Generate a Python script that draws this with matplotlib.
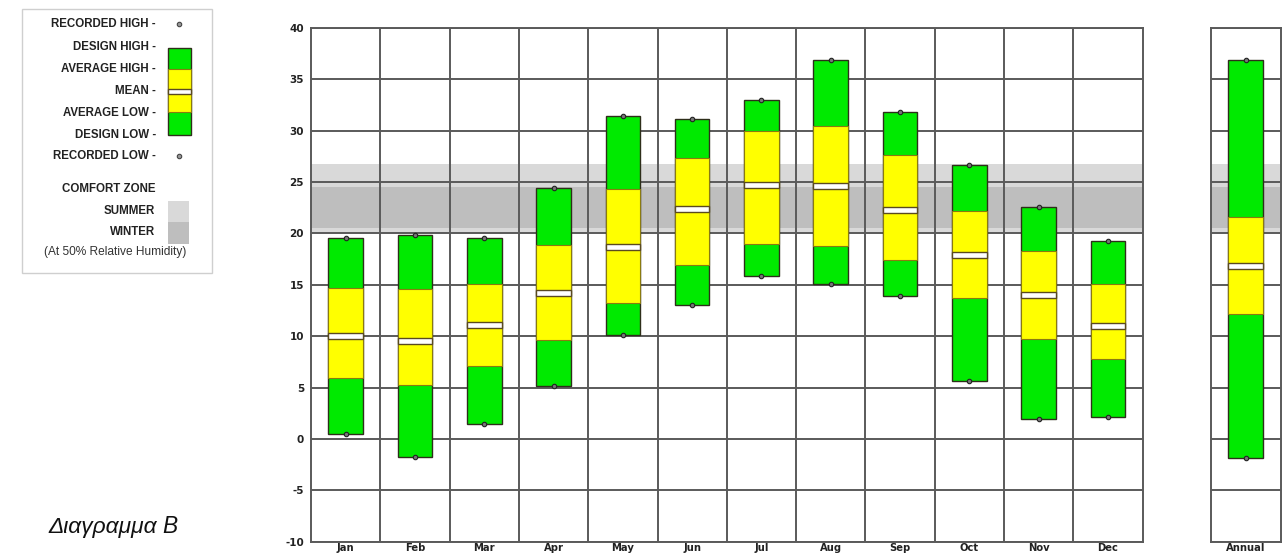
import numpy as np
import matplotlib
matplotlib.use("Agg")
import matplotlib.pyplot as plt
from matplotlib.patches import Rectangle

# Monthly temperature ranges (deg C)
months = ["Jan", "Feb", "Mar", "Apr", "May", "Jun",
          "Jul", "Aug", "Sep", "Oct", "Nov", "Dec"]
recorded_high = [19.6, 19.85, 19.6, 24.45, 31.45, 31.1, 33.0, 36.9, 31.85, 26.65, 22.6, 19.25]
design_high = [19.6, 19.85, 19.6, 24.45, 31.45, 31.1, 33.0, 36.9, 31.85, 26.65, 22.6, 19.25]
average_high = [14.65, 14.55, 15.1, 18.85, 24.3, 27.35, 29.95, 30.5, 27.6, 22.2, 18.25, 15.1]
mean_temp = [10.05, 9.5, 11.1, 14.2, 18.7, 22.4, 24.7, 24.6, 22.3, 17.9, 14.0, 11.0]
average_low = [5.95, 5.25, 7.1, 9.6, 13.25, 16.9, 19.0, 18.8, 17.4, 13.75, 9.7, 7.75]
design_low = [0.45, -1.8, 1.45, 5.15, 10.1, 13.0, 15.9, 15.05, 13.9, 5.65, 1.9, 2.15]
recorded_low = [0.45, -1.8, 1.45, 5.15, 10.1, 13.0, 15.9, 15.05, 13.9, 5.65, 1.9, 2.15]

annual_label = ["Annual"]
annual_recorded_high = [36.9]
annual_design_high = [36.9]
annual_average_high = [21.6]
annual_mean = [16.8]
annual_average_low = [12.15]
annual_design_low = [-1.85]
annual_recorded_low = [-1.85]

# Comfort zones at 50% relative humidity
summer_zone = (20.0, 26.8)
winter_zone = (20.5, 24.5)

GREEN = "#00ea00"
YELLOW = "#ffff00"
EDGE = "#2e2e1a"
GRID = "#5a5a5a"
SUMMER = "#d9d9d9"
WINTER = "#bebebe"
TXT = "#222222"

W, H = 1284, 555
fig = plt.figure(figsize=(W / 100, H / 100), dpi=100)


def draw_bars(ax, x, rh, dh, ah, mn, al, dl, rl, width=0.5):
    for i in range(len(x)):
        ax.bar(x[i], dh[i] - dl[i], bottom=dl[i], width=width,
               color=GREEN, edgecolor=EDGE, linewidth=1.0, zorder=3)
        ax.bar(x[i], ah[i] - al[i], bottom=al[i], width=width,
               color=YELLOW, edgecolor="#8a7a10", linewidth=0.8, zorder=4)
        ax.bar(x[i], 0.6, bottom=mn[i] - 0.3, width=width,
               color="white", edgecolor="#5a4a20", linewidth=1.0, zorder=5)
    ax.plot(x, rh, "o", ms=3.2, mfc="#777777", mec="#222222", mew=0.8, zorder=6)
    ax.plot(x, rl, "o", ms=3.2, mfc="#777777", mec="#222222", mew=0.8, zorder=6)


def style_axes(ax):
    ax.set_ylim(-10, 40)
    ax.set_yticks(np.arange(-10, 41, 5))
    ax.axhspan(*summer_zone, color=SUMMER, lw=0, zorder=0.5)
    ax.axhspan(*winter_zone, color=WINTER, lw=0, zorder=0.6)
    ax.set_axisbelow(False)
    ax.grid(axis="y", which="major", color=GRID, lw=1.4)
    for s in ax.spines.values():
        s.set_color(GRID)
        s.set_linewidth(1.4)
    ax.tick_params(length=0, colors=TXT)


# Main monthly panel
ax = fig.add_axes([311 / W, 13.3 / H, 831.6 / W, 513.7 / H])
style_axes(ax)
ax.set_xlim(0, 12)
xs = np.arange(len(months)) + 0.5
ax.set_xticks(xs)
ax.set_xticklabels(months, fontsize=7.2, fontweight="bold", color=TXT)
ax.set_xticks(np.arange(1, 12), minor=True)
ax.tick_params(axis="x", which="both", length=0, pad=1.2)
ax.grid(axis="x", which="minor", color=GRID, lw=1.4)
ax.set_yticklabels([str(v) for v in range(-10, 41, 5)], fontsize=7.5,
                   fontweight="bold", color=TXT)
ax.tick_params(axis="y", pad=5)
draw_bars(ax, xs, recorded_high, design_high, average_high, mean_temp,
          average_low, design_low, recorded_low)

# Annual panel
ax2 = fig.add_axes([1210.7 / W, 13.3 / H, 70 / W, 513.7 / H])
style_axes(ax2)
ax2.set_xlim(0, 1)
ax2.set_xticks([0.5])
ax2.set_xticklabels(annual_label, fontsize=7.2, fontweight="bold", color=TXT)
ax2.tick_params(axis="x", pad=1.2)
ax2.set_yticklabels([])
draw_bars(ax2, [0.5], annual_recorded_high, annual_design_high,
          annual_average_high, annual_mean, annual_average_low,
          annual_design_low, annual_recorded_low)

# Legend panel and caption, laid out in pixel units
lg = fig.add_axes([0, 0, 1, 1], zorder=-1)
lg.set_xlim(0, W)
lg.set_ylim(H, 0)
lg.axis("off")
lg.add_patch(Rectangle((22, 9), 190, 264, facecolor="white",
                       edgecolor="#cfcfcf", lw=1.0))

LEG_FS = 8.3
rows = [("RECORDED HIGH -", 24), ("DESIGN HIGH -", 46.7), ("AVERAGE HIGH -", 69),
        ("MEAN -", 90.5), ("AVERAGE LOW -", 112.5), ("DESIGN LOW -", 135),
        ("RECORDED LOW -", 156)]
for label, y in rows:
    lg.text(156, y, label, ha="right", va="center", fontsize=LEG_FS,
            fontweight="bold", color=TXT, family="Liberation Sans")

lg.add_patch(Rectangle((168, 47.7), 23, 87.3, facecolor=GREEN, edgecolor=EDGE, lw=1.0))
lg.add_patch(Rectangle((168, 69), 23, 43, facecolor=YELLOW, edgecolor="#8a7a10", lw=0.8))
lg.add_patch(Rectangle((168, 88.5), 23, 5, facecolor="white", edgecolor="#5a4a20", lw=1.0))
lg.plot([179, 179], [24, 156], "o", ms=3.2, mfc="#999999", mec="#444444", mew=0.8)

lg.text(155, 189, "COMFORT ZONE", ha="right", va="center", fontsize=LEG_FS,
        fontweight="bold", color=TXT, family="Liberation Sans")
lg.text(155, 210.5, "SUMMER", ha="right", va="center", fontsize=LEG_FS,
        fontweight="bold", color=TXT, family="Liberation Sans")
lg.text(155, 232, "WINTER", ha="right", va="center", fontsize=LEG_FS,
        fontweight="bold", color=TXT, family="Liberation Sans")
lg.add_patch(Rectangle((168, 200.7), 21, 21, facecolor=SUMMER, lw=0))
lg.add_patch(Rectangle((168, 221.7), 21, 22.3, facecolor=WINTER, lw=0))
lg.text(115, 252, "(At 50% Relative Humidity)", ha="center", va="center",
        fontsize=8.6, color="#333333", family="Liberation Sans")

lg.text(48, 533, "Διαγραμμα B", ha="left", va="baseline", fontsize=16.4,
        style="italic", color="#111111", family="Liberation Sans")

fig.savefig("out.png", dpi=100)
